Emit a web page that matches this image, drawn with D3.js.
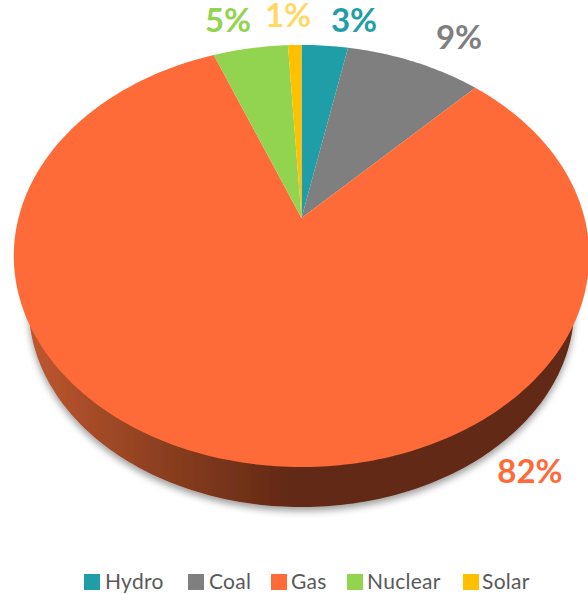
<!DOCTYPE html>
<html>
<head>
<meta charset="utf-8">
<script src="https://cdn.jsdelivr.net/npm/d3@7"></script>
<style>
    html, body { margin: 0; background: #fff; overflow: hidden; }
    svg { display: block; }
    text { font-family: Lato, "Open Sans", sans-serif; }
</style>
</head>
<body>
<div id="chart"></div>
<script>
// -DATA-
const categories = ["Hydro", "Coal", "Gas", "Nuclear", "Solar"];
const shares = [3.1, 9.1, 81.9, 5.0, 0.9];
const shareLabels = ["3%", "9%", "82%", "5%", "1%"];

// -STYLE / LAYOUT-
const colorArr = ["#1f9ea8", "#7f7f7f", "#ff6a39", "#92d450", "#ffc000"];
const labelColors = ["#1f9ea8", "#7f7f7f", "#ff6a39", "#92d450", "#ffd966"];
const w = 588, h = 594;

// label centre and baseline, placed by hand in the original
const labelX = [354, 459, 530, 228, 288];
const labelY = [32, 49, 483, 32, 27];
const legendX = [84, 188, 271, 347, 463];
const legendTextX = [105, 209, 291, 367, 482];

// tilted disc: a unit circle seen in perspective, far side is squeezed
const tilt = 0.18;
const project = (scale, y0) => (angle, r) => {
    const u = r * Math.sin(angle), v = r * Math.cos(angle);
    const q = 1 + tilt * v;
    return [301.5 + 283 * scale * u / q, y0 - 204.2 * scale * v / q];
};
const topDisc = project(1, 218);
const lowerDisc = project(0.948, 271);

const line = d3.line();

// wedge outline, apex then points along the rim
function wedge(proj, d) {
    const n = Math.max(2, Math.ceil((d.endAngle - d.startAngle) * 60));
    const rim = d3.range(n + 1).map(i => proj(d.startAngle + (d.endAngle - d.startAngle) * i / n, 1));
    return line([proj(0, 0), ...rim]) + "Z";
}

const pie = d3.pie().sort(null);
const arcs = pie(shares);

const svg = d3.select("#chart").append("svg")
    .attr("width", w)
    .attr("height", h);

const defs = svg.append("defs");

const grad = defs.append("linearGradient")
    .attr("id", "wall")
    .attr("gradientUnits", "userSpaceOnUse")
    .attr("x1", 30).attr("x2", 290)
    .attr("y1", 0).attr("y2", 0);
grad.append("stop").attr("offset", 0).attr("stop-color", "#bd5730");
grad.append("stop").attr("offset", 0.5).attr("stop-color", "#8c3f20");
grad.append("stop").attr("offset", 1).attr("stop-color", "#622915");

const shadow = defs.append("filter")
    .attr("id", "shadow")
    .attr("x", "-5%").attr("y", "-5%")
    .attr("width", "110%").attr("height", "112%");
shadow.append("feDropShadow")
    .attr("dx", 0).attr("dy", 4)
    .attr("stdDeviation", 3.5)
    .attr("flood-color", "#000")
    .attr("flood-opacity", 0.38);

// side wall under the gas slice
const gas = arcs[categories.indexOf("Gas")];
svg.append("path")
    .attr("d", wedge(lowerDisc, gas))
    .attr("fill", "url(#wall)")
    .attr("filter", "url(#shadow)");

// top face
svg.selectAll("path.slice")
    .data(arcs)
    .enter()
    .append("path")
    .attr("class", "slice")
    .attr("d", d => wedge(topDisc, d))
    .attr("fill", (d, i) => colorArr[i]);

// percent labels
svg.selectAll("text.share")
    .data(shareLabels)
    .enter()
    .append("text")
    .attr("class", "share")
    .attr("x", (d, i) => labelX[i])
    .attr("y", (d, i) => labelY[i])
    .attr("text-anchor", "middle")
    .attr("font-size", 33)
    .attr("font-weight", 700)
    .attr("fill", (d, i) => labelColors[i])
    .text(d => d);

// legend
const legend = svg.append("g").attr("id", "legend");
legend.selectAll("rect")
    .data(categories)
    .enter()
    .append("rect")
    .attr("x", (d, i) => legendX[i])
    .attr("y", 574)
    .attr("width", 16)
    .attr("height", 16)
    .attr("fill", (d, i) => colorArr[i]);
legend.selectAll("text")
    .data(categories)
    .enter()
    .append("text")
    .attr("x", (d, i) => legendTextX[i])
    .attr("y", 589)
    .attr("font-size", 21)
    .attr("letter-spacing", 0.3)
    .attr("fill", "#595959")
    .text(d => d);
</script>
</body>
</html>
